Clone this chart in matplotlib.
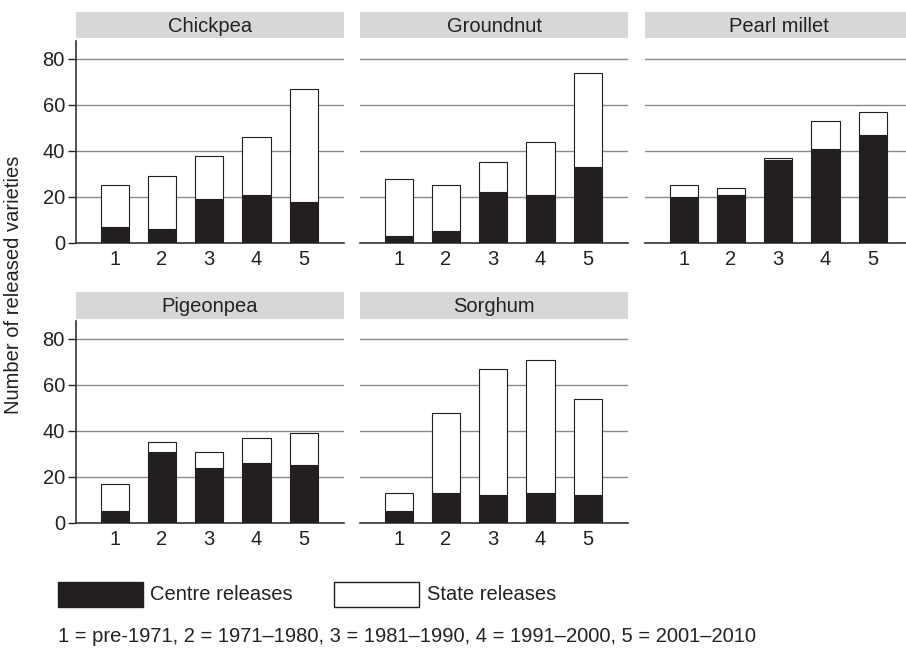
import matplotlib.pyplot as plt
from matplotlib.patches import Rectangle

plt.rcParams['font.family'] = ['Liberation Sans', 'DejaVu Sans']

periods = [1, 2, 3, 4, 5]
crops = ["Chickpea", "Groundnut", "Pearl millet", "Pigeonpea", "Sorghum"]

# centre releases and total releases per period
centre = {
    "Chickpea":     [7, 6, 19, 21, 18],
    "Groundnut":    [3, 5, 22, 21, 33],
    "Pearl millet": [20, 21, 36, 41, 47],
    "Pigeonpea":    [5, 31, 24, 26, 25],
    "Sorghum":      [5, 13, 12, 13, 12],
}
total = {
    "Chickpea":     [25, 29, 38, 46, 67],
    "Groundnut":    [28, 25, 35, 44, 74],
    "Pearl millet": [25, 24, 37, 53, 57],
    "Pigeonpea":    [17, 35, 31, 37, 39],
    "Sorghum":      [13, 48, 67, 71, 54],
}

W, H = 906, 650
fig = plt.figure(figsize=(W / 100, H / 100), dpi=100)

dark = "#231f20"
grid_col = "#8a8a8a"
strip_col = "#d7d7d7"
txt = "#222222"
fs = 14.5

col_left = [76, 360, 645]
row_top = [41, 321]       # top of plot area (px)
row_zero = [243, 523]     # y=0 (px)
strip = [(12, 38), (292, 319)]
pw = 268


def px_axes(x0, y0, x1, y1):
    return fig.add_axes([x0 / W, 1 - y1 / H, (x1 - x0) / W, (y1 - y0) / H])


for i, crop in enumerate(crops):
    r, c = divmod(i, 3)
    x0 = col_left[c]
    ax = px_axes(x0, row_top[r], x0 + pw, row_zero[r])

    cen = centre[crop]
    state = [t - ce for t, ce in zip(total[crop], cen)]
    ax.bar(periods, cen, width=0.6, color=dark, edgecolor=dark, linewidth=0.8, zorder=3)
    ax.bar(periods, state, bottom=cen, width=0.6, color="white", edgecolor=dark,
           linewidth=0.8, zorder=3)

    ax.set_xlim(0.18, 5.85)
    ax.set_ylim(0, 87.8)
    ax.set_yticks([0, 20, 40, 60, 80])
    for v in [20, 40, 60, 80]:
        ax.axhline(v, color=grid_col, linewidth=1.0, zorder=1)
    ax.set_xticks(periods)
    ax.tick_params(axis="x", length=0, labelsize=fs, pad=5, colors=txt)
    for s in ["top", "right"]:
        ax.spines[s].set_visible(False)
    ax.spines["bottom"].set_color("#333333")
    ax.spines["bottom"].set_linewidth(1.2)
    if c == 0:
        ax.spines["left"].set_color("#333333")
        ax.spines["left"].set_linewidth(1.2)
        ax.tick_params(axis="y", length=6, width=1, labelsize=fs, pad=2, colors=txt)
    else:
        ax.spines["left"].set_visible(False)
        ax.tick_params(axis="y", length=0, labelleft=False)

    # grey strip with the crop name
    sx = px_axes(x0, strip[r][0], x0 + pw, strip[r][1])
    sx.set_facecolor(strip_col)
    sx.set_xticks([])
    sx.set_yticks([])
    for s in sx.spines.values():
        s.set_visible(False)
    sx.text(0.5, 0.45, crop, ha="center", va="center", fontsize=fs, color=txt,
            transform=sx.transAxes)

fig.text(14 / W, 1 - 285 / H, "Number of released varieties", rotation=90,
         ha="center", va="center", fontsize=fs, color=txt)

# legend drawn in figure coordinates
fig.patches.append(Rectangle((58 / W, 1 - 607 / H), 85 / W, 25 / H, facecolor=dark,
                             edgecolor=dark, transform=fig.transFigure))
fig.text(150 / W, 1 - 594 / H, "Centre releases", ha="left", va="center", fontsize=fs,
         color=txt)
fig.patches.append(Rectangle((334 / W, 1 - 607 / H), 85 / W, 25 / H, facecolor="white",
                             edgecolor=dark, linewidth=1, transform=fig.transFigure))
fig.text(427 / W, 1 - 594 / H, "State releases", ha="left", va="center", fontsize=fs,
         color=txt)

fig.text(58 / W, 1 - 637 / H,
         "1 = pre-1971, 2 = 1971\u20131980, 3 = 1981\u20131990, 4 = 1991\u20132000, 5 = 2001\u20132010",
         ha="left", va="center", fontsize=fs, color=txt)

fig.savefig("out.png", dpi=100)
